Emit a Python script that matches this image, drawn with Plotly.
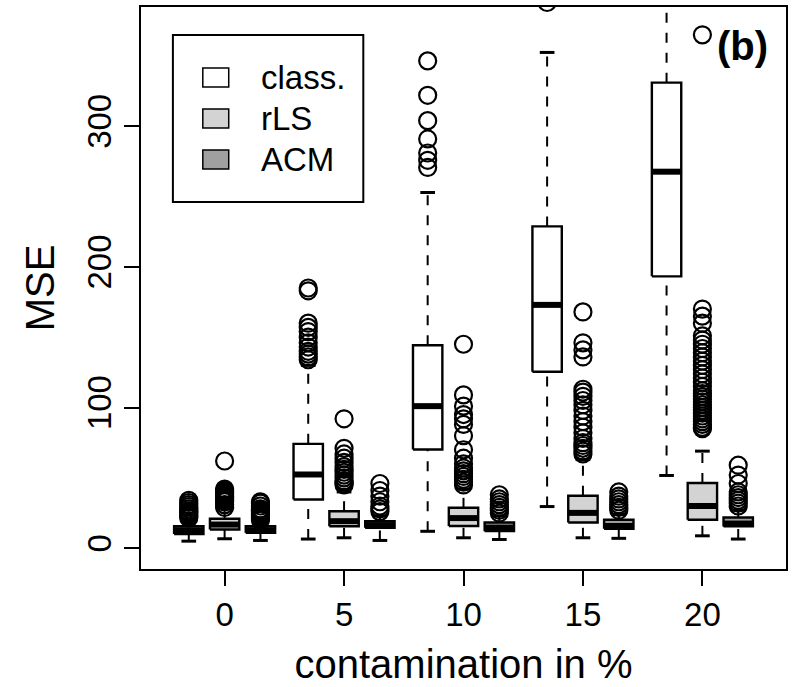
import plotly.graph_objects as go

# Contamination levels (%) and the three estimators
contamination = [0, 5, 10, 15, 20]
methods = ["class.", "rLS", "ACM"]
method_fill = {"class.": "#ffffff", "rLS": "#d3d3d3", "ACM": "#a0a0a0"}
method_offset = {"class.": -1.5, "rLS": 0.0, "ACM": 1.5}

# Five-number summaries of the MSE per method and contamination level
class_lo = [5.0, 6.5, 12.0, 29.6, 51.7]
class_q1 = [10.0, 34.6, 70.2, 125.5, 193.3]
class_med = [12.8, 52.4, 101.0, 173.0, 267.7]
class_q3 = [15.6, 74.2, 144.3, 228.8, 331.0]
class_hi = [20.0, 130.0, 252.9, 352.5, 420.0]

rls_lo = [6.7, 7.4, 7.4, 7.4, 8.8]
rls_q1 = [13.3, 15.6, 15.8, 18.3, 20.2]
rls_med = [16.8, 19.2, 21.4, 25.1, 30.0]
rls_q3 = [20.9, 26.3, 28.7, 37.3, 46.3]
rls_hi = [28.0, 40.0, 42.0, 63.0, 69.0]

acm_lo = [5.5, 5.5, 6.2, 7.0, 6.5]
acm_q1 = [11.0, 14.5, 12.1, 13.8, 15.5]
acm_med = [12.8, 16.4, 14.6, 15.8, 17.5]
acm_q3 = [15.6, 19.2, 18.3, 20.2, 21.8]
acm_hi = [19.0, 23.0, 23.0, 24.0, 27.0]

# Outlying MSE values
class_out = [
    [21.5, 22.5, 23.5, 24.5, 25.5, 26.5, 28.0, 29.5, 31.0, 32.5, 34.0],
    [134, 136, 138, 140, 143, 146, 150, 154, 157, 160, 183, 185],
    [270.7, 275.8, 281, 291, 304, 322, 346.5],
    [388],
    [],
]
rls_out = [
    [29, 31, 33, 34, 35, 36, 37, 38, 39, 40, 41, 42, 62],
    [45, 46, 47, 48, 50, 52, 54, 56, 58, 61, 64, 67, 71, 92],
    [45, 47, 49, 51, 53, 55, 57, 60, 64, 70, 80, 88, 92, 95, 101, 109, 145],
    [67, 69, 71, 73, 75, 78, 82, 86, 90, 94, 98, 102, 105, 108, 111, 113,
     136, 141, 146, 168],
    [85, 86, 88, 90, 92, 94, 96, 98, 100, 102, 104, 106, 108, 110, 112, 115,
     118, 121, 124, 127, 130, 133, 136, 139, 142, 145, 148, 151, 160, 165,
     170, 365],
]
acm_out = [
    [20, 21, 22, 23, 24, 25, 26, 27, 28, 30, 32, 33],
    [26, 28, 30, 33, 37, 41, 46],
    [25, 27, 29, 31, 33, 35, 38],
    [27, 29, 31, 33, 35, 37, 40],
    [30, 32, 34, 36, 38, 40, 46, 52, 59],
]

stats = {
    "class.": (class_lo, class_q1, class_med, class_q3, class_hi, class_out),
    "rLS": (rls_lo, rls_q1, rls_med, rls_q3, rls_hi, rls_out),
    "ACM": (acm_lo, acm_q1, acm_med, acm_q3, acm_hi, acm_out),
}

BOX_W = 1.23
HW = BOX_W / 2
SW = HW / 2

fig = go.Figure()


def add_box(x, lo, q1, med, q3, hi, fill, out):
    # dashed whiskers
    fig.add_trace(go.Scatter(
        x=[x, x, None, x, x], y=[lo, q1, None, q3, hi], mode="lines",
        line=dict(color="black", width=2, dash="10px,10px"),
        hoverinfo="skip", showlegend=False))
    # staples
    fig.add_trace(go.Scatter(
        x=[x - SW, x + SW, None, x - SW, x + SW], y=[lo, lo, None, hi, hi],
        mode="lines", line=dict(color="black", width=3),
        hoverinfo="skip", showlegend=False))
    # box
    fig.add_trace(go.Scatter(
        x=[x - HW, x + HW, x + HW, x - HW, x - HW], y=[q1, q1, q3, q3, q1],
        mode="lines", fill="toself", fillcolor=fill,
        line=dict(color="black", width=2.4),
        hoverinfo="skip", showlegend=False))
    # median
    fig.add_trace(go.Scatter(
        x=[x - HW, x + HW], y=[med, med], mode="lines",
        line=dict(color="black", width=6),
        hoverinfo="skip", showlegend=False))
    # outliers
    if out:
        fig.add_trace(go.Scatter(
            x=[x] * len(out), y=out, mode="markers",
            marker=dict(symbol="circle-open", size=17, color="black",
                        line=dict(width=2.2, color="black")),
            hoverinfo="skip", showlegend=False))


for i, c in enumerate(contamination):
    for m in methods:
        lo, q1, med, q3, hi, out = stats[m]
        add_box(c + method_offset[m], lo[i], q1[i], med[i], q3[i], hi[i],
                method_fill[m], out[i])

W, H = 792, 687
ML, MR, MT, MB = 141, 4, 7, 118
PW, PH = W - ML - MR, H - MT - MB


def px(xp):
    return (xp - ML) / PW


def py(yp):
    return (H - MB - yp) / PH


FONT = "Liberation Sans, Arial, Helvetica, sans-serif"
shapes = []
annotations = []

# legend frame
shapes.append(dict(type="rect", xref="paper", yref="paper",
                   x0=px(173), x1=px(364), y0=py(202), y1=py(35),
                   line=dict(color="black", width=2), fillcolor="white",
                   layer="above"))
for k, m in enumerate(methods):
    cy = 77.5 + 41 * k
    shapes.append(dict(type="rect", xref="paper", yref="paper",
                       x0=px(203), x1=px(229), y0=py(cy + 9.5), y1=py(cy - 9.5),
                       line=dict(color="black", width=1.5),
                       fillcolor=method_fill[m], layer="above"))
    annotations.append(dict(text=m, xref="paper", yref="paper",
                            x=px(259), y=py(cy), xanchor="left",
                            yanchor="middle", showarrow=False,
                            font=dict(size=33, color="black", family=FONT)))

annotations.append(dict(text="<b>(b)</b>", xref="paper", yref="paper",
                        x=px(744), y=py(46), xanchor="center", yanchor="middle",
                        showarrow=False,
                        font=dict(size=40, color="black", family=FONT)))

fig.update_layout(
    width=W, height=H, autosize=False,
    margin=dict(l=ML, r=MR, t=MT, b=MB),
    paper_bgcolor="white", plot_bgcolor="white",
    font=dict(family=FONT, size=33, color="black"),
    shapes=shapes, annotations=annotations, showlegend=False,
    xaxis=dict(range=[-3.5, 23.5], tickvals=contamination,
               ticktext=[str(c) for c in contamination],
               ticks="outside", ticklen=15, tickwidth=2, tickcolor="black",
               showline=True, mirror=True, linewidth=2, linecolor="black",
               showgrid=False, zeroline=False,
               title=dict(text="contamination in %", standoff=18),
               tickfont=dict(size=33)),
    yaxis=dict(range=[-14.8, 384.8], tickvals=[0, 100, 200, 300],
               tickangle=-90,
               ticks="outside", ticklen=15, tickwidth=2, tickcolor="black",
               showline=True, mirror=True, linewidth=2, linecolor="black",
               showgrid=False, zeroline=False,
               title=dict(text="MSE", standoff=14),
               tickfont=dict(size=33)),
)

fig.write_html("out.html")
